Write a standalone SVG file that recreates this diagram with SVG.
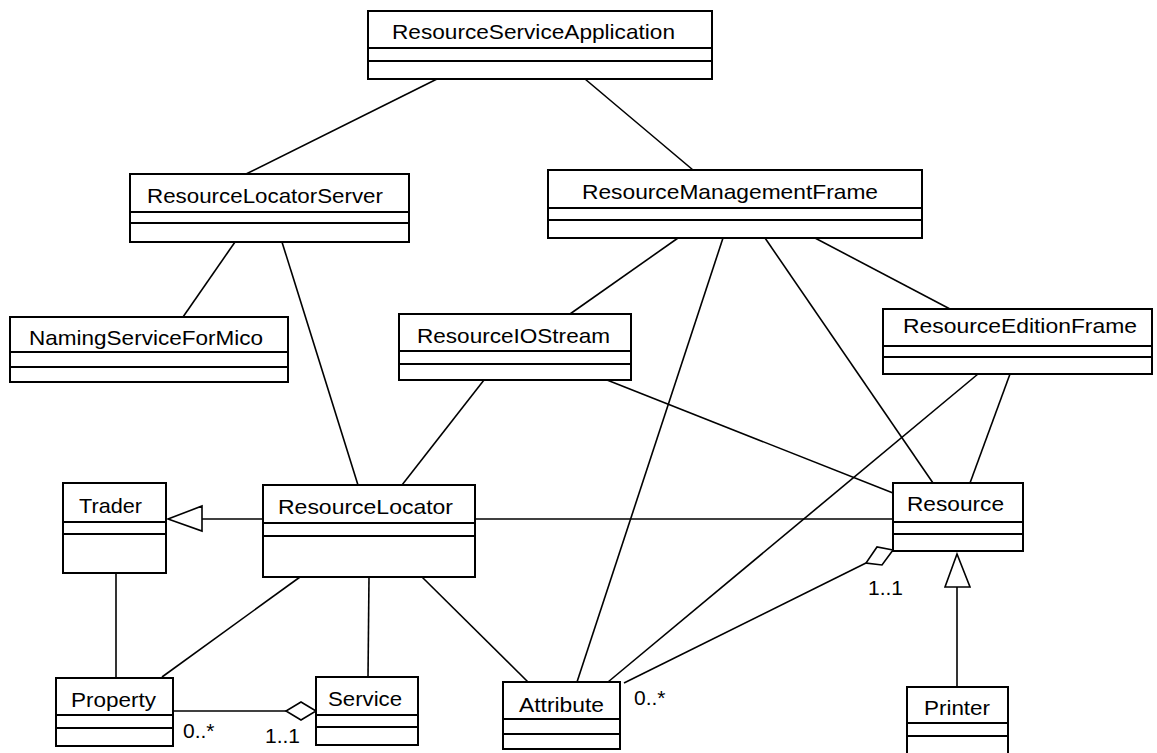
<svg xmlns="http://www.w3.org/2000/svg" width="1157" height="753" viewBox="0 0 1157 753">
  <defs>
    <style>
      .box { fill: #fff; stroke: #000; stroke-width: 2; }
      .div { stroke: #000; stroke-width: 2; }
      .name { font-family: "Liberation Sans", Arial, sans-serif; font-size: 21px; fill: #000; }
      .mult { font-family: "Liberation Sans", Arial, sans-serif; font-size: 21px; fill: #000; }
      .link { stroke: #000; stroke-width: 1.6; fill: none; }
      .gen { fill: #fff; stroke: #000; stroke-width: 1.6; }
      .agg { fill: #fff; stroke: #000; stroke-width: 1.6; }
    </style>
  </defs>
  <rect width="1157" height="753" fill="#fff"/>

  <!-- connectors -->
  <g id="connectors">
    <line class="link" x1="437" y1="79" x2="246" y2="174"/>
    <line class="link" x1="585" y1="79" x2="693" y2="170"/>
    <line class="link" x1="235" y1="242" x2="183" y2="317"/>
    <line class="link" x1="282" y1="242" x2="358" y2="485"/>
    <line class="link" x1="678" y1="238" x2="570" y2="314"/>
    <line class="link" x1="723" y1="238" x2="577" y2="682"/>
    <line class="link" x1="765" y1="238" x2="933" y2="483"/>
    <line class="link" x1="815" y1="238" x2="950" y2="309"/>
    <line class="link" x1="484" y1="380" x2="402" y2="485"/>
    <line class="link" x1="607" y1="380" x2="893" y2="493"/>
    <line class="link" x1="978" y1="374" x2="608" y2="682"/>
    <line class="link" x1="1010" y1="374" x2="970" y2="483"/>
    <line class="link" x1="475" y1="519" x2="893" y2="519"/>
    <!-- generalization: ResourceLocator to Trader -->
    <line class="link" x1="202" y1="519" x2="263" y2="519"/>
    <polygon class="gen" points="168,519 202,506 202,531"/>
    <line class="link" x1="116" y1="573" x2="116" y2="678"/>
    <line class="link" x1="300" y1="577" x2="162" y2="677"/>
    <line class="link" x1="369" y1="577" x2="368" y2="677"/>
    <line class="link" x1="422" y1="577" x2="528" y2="682"/>
    <!-- aggregation: Property in Service -->
    <line class="link" x1="173" y1="711" x2="286" y2="711"/>
    <polygon class="agg" points="316,711 301,702 286,711 301,720"/>
    <!-- aggregation: Attribute in Resource -->
    <line class="link" x1="624" y1="683" x2="866" y2="563"/>
    <polygon class="agg" points="893,550 877,547 866,563 882,565"/>
    <!-- generalization: Printer to Resource -->
    <line class="link" x1="957" y1="587" x2="957" y2="687"/>
    <polygon class="gen" points="957,554 945,587 970,587"/>
    <text class="mult" x="183" y="738">0..*</text>
    <text class="mult" x="265" y="743">1..1</text>
    <text class="mult" x="868" y="595">1..1</text>
    <text class="mult" x="634" y="705">0..*</text>
  </g>

  <g id="ResourceServiceApplication">
    <rect class="box" x="368" y="11" width="344" height="68"/>
    <line class="div" x1="368" y1="48" x2="712" y2="48"/>
    <line class="div" x1="368" y1="61" x2="712" y2="61"/>
    <text class="name" x="392" y="39" textLength="283" lengthAdjust="spacingAndGlyphs">ResourceServiceApplication</text>
  </g>

  <g id="ResourceLocatorServer">
    <rect class="box" x="130" y="174" width="279" height="68"/>
    <line class="div" x1="130" y1="212" x2="409" y2="212"/>
    <line class="div" x1="130" y1="223" x2="409" y2="223"/>
    <text class="name" x="147" y="203" textLength="236" lengthAdjust="spacingAndGlyphs">ResourceLocatorServer</text>
  </g>

  <g id="ResourceManagementFrame">
    <rect class="box" x="548" y="170" width="374" height="68"/>
    <line class="div" x1="548" y1="208" x2="922" y2="208"/>
    <line class="div" x1="548" y1="220" x2="922" y2="220"/>
    <text class="name" x="582" y="199" textLength="296" lengthAdjust="spacingAndGlyphs">ResourceManagementFrame</text>
  </g>

  <g id="NamingServiceForMico">
    <rect class="box" x="10" y="317" width="278" height="65"/>
    <line class="div" x1="10" y1="352" x2="288" y2="352"/>
    <line class="div" x1="10" y1="367" x2="288" y2="367"/>
    <text class="name" x="29" y="345" textLength="234" lengthAdjust="spacingAndGlyphs">NamingServiceForMico</text>
  </g>

  <g id="ResourceIOStream">
    <rect class="box" x="399" y="314" width="232" height="66"/>
    <line class="div" x1="399" y1="351" x2="631" y2="351"/>
    <line class="div" x1="399" y1="364" x2="631" y2="364"/>
    <text class="name" x="417" y="343" textLength="193" lengthAdjust="spacingAndGlyphs">ResourceIOStream</text>
  </g>

  <g id="ResourceEditionFrame">
    <rect class="box" x="883" y="309" width="269" height="65"/>
    <line class="div" x1="883" y1="346" x2="1152" y2="346"/>
    <line class="div" x1="883" y1="357" x2="1152" y2="357"/>
    <text class="name" x="903" y="333" textLength="234" lengthAdjust="spacingAndGlyphs">ResourceEditionFrame</text>
  </g>

  <g id="Trader">
    <rect class="box" x="63" y="483" width="103" height="90"/>
    <line class="div" x1="63" y1="522" x2="166" y2="522"/>
    <line class="div" x1="63" y1="534" x2="166" y2="534"/>
    <text class="name" x="79" y="513" textLength="63" lengthAdjust="spacingAndGlyphs">Trader</text>
  </g>

  <g id="ResourceLocator">
    <rect class="box" x="263" y="485" width="212" height="92"/>
    <line class="div" x1="263" y1="523" x2="475" y2="523"/>
    <line class="div" x1="263" y1="536" x2="475" y2="536"/>
    <text class="name" x="278" y="514" textLength="175" lengthAdjust="spacingAndGlyphs">ResourceLocator</text>
  </g>

  <g id="Resource">
    <rect class="box" x="893" y="483" width="130" height="68"/>
    <line class="div" x1="893" y1="522" x2="1023" y2="522"/>
    <line class="div" x1="893" y1="534" x2="1023" y2="534"/>
    <text class="name" x="907" y="511" textLength="97" lengthAdjust="spacingAndGlyphs">Resource</text>
  </g>

  <g id="Property">
    <rect class="box" x="56" y="678" width="117" height="68"/>
    <line class="div" x1="56" y1="715" x2="173" y2="715"/>
    <line class="div" x1="56" y1="728" x2="173" y2="728"/>
    <text class="name" x="71" y="707" textLength="85" lengthAdjust="spacingAndGlyphs">Property</text>
  </g>

  <g id="Service">
    <rect class="box" x="316" y="677" width="102" height="68"/>
    <line class="div" x1="316" y1="715" x2="418" y2="715"/>
    <line class="div" x1="316" y1="727" x2="418" y2="727"/>
    <text class="name" x="328" y="706" textLength="74" lengthAdjust="spacingAndGlyphs">Service</text>
  </g>

  <g id="Attribute">
    <rect class="box" x="503" y="682" width="117" height="67"/>
    <line class="div" x1="503" y1="719" x2="620" y2="719"/>
    <line class="div" x1="503" y1="734" x2="620" y2="734"/>
    <text class="name" x="519" y="712" textLength="85" lengthAdjust="spacingAndGlyphs">Attribute</text>
  </g>

  <g id="Printer">
    <rect class="box" x="907" y="687" width="101" height="80"/>
    <line class="div" x1="907" y1="723" x2="1008" y2="723"/>
    <line class="div" x1="907" y1="736" x2="1008" y2="736"/>
    <text class="name" x="924" y="715" textLength="66" lengthAdjust="spacingAndGlyphs">Printer</text>
  </g>
</svg>
